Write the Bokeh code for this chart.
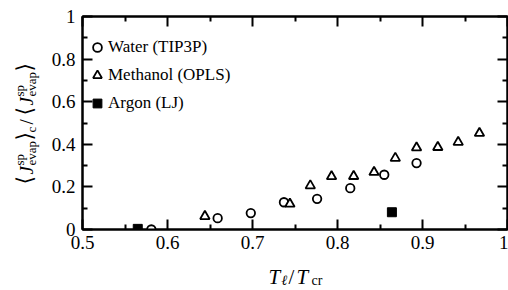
from math import pi
from bokeh.plotting import figure
from bokeh.layouts import row, column
from bokeh.models import (FixedTicker, LinearAxis, Legend, LegendItem, Label,
                          Range1d, CustomJSTickFormatter)
from bokeh.embed import file_html
from bokeh.resources import INLINE

# ---- data ----
water_x = [0.581, 0.659, 0.698, 0.737, 0.776, 0.815, 0.855, 0.893]
water_y = [0.000, 0.053, 0.077, 0.128, 0.144, 0.194, 0.257, 0.312]

methanol_x = [0.644, 0.744, 0.768, 0.793, 0.819, 0.843, 0.868, 0.893, 0.918, 0.942, 0.967]
methanol_y = [0.062, 0.120, 0.206, 0.249, 0.250, 0.269, 0.335, 0.384, 0.386, 0.410, 0.452]

argon_x = [0.565, 0.864]
argon_y = [0.003, 0.081]

series_names = ["Water (TIP3P)", "Methanol (OPLS)", "Argon (LJ)"]

x_ticks = [0.5, 0.6, 0.7, 0.8, 0.9, 1.0]
x_tick_labels = ["0.5", "0.6", "0.7", "0.8", "0.9", "1"]
x_minor = [0.55, 0.65, 0.75, 0.85, 0.95]
y_ticks = [0.0, 0.2, 0.4, 0.6, 0.8, 1.0]
y_tick_labels = ["0", "0.2", "0.4", "0.6", "0.8", "1"]
y_minor = [0.1, 0.3, 0.5, 0.7, 0.9]

SERIF = "Liberation Serif"
YT_W = 40     # width of the strip holding the rotated y title
XT_H = 30     # height of the strip holding the x title
LB = 82 - YT_W

# ---------------- main plot ----------------
p = figure(width=508 - YT_W, height=290 - XT_H, x_range=Range1d(0.5, 1.0), y_range=Range1d(0, 1),
           output_backend="svg", toolbar_location=None,
           x_axis_location=None, y_axis_location=None,
           min_border_left=LB, min_border_right=1, min_border_top=16,
           min_border_bottom=290 - XT_H - 229)
p.xgrid.visible = False
p.ygrid.visible = False
p.outline_line_color = "black"
p.outline_line_width = 2
p.background_fill_color = "white"
p.border_fill_color = "white"

empty = CustomJSTickFormatter(code="return ''")


def style_axis(ax, ticks, minor, labels=None):
    ax.ticker = FixedTicker(ticks=ticks, minor_ticks=minor)
    ax.axis_line_color = "black"
    ax.axis_line_width = 2
    ax.major_tick_in = 10
    ax.major_tick_out = 0
    ax.minor_tick_in = 5
    ax.minor_tick_out = 0
    ax.major_tick_line_width = 2
    ax.minor_tick_line_width = 2
    ax.major_tick_line_color = "black"
    ax.minor_tick_line_color = "black"
    if labels is None:
        ax.formatter = empty
        ax.major_label_text_font_size = "0px"
        ax.major_label_standoff = 0
    else:
        ax.major_label_overrides = dict(zip(ticks, labels))
        ax.major_label_text_font = SERIF
        ax.major_label_text_font_size = "19px"
        ax.major_label_text_color = "black"


xb = LinearAxis()
style_axis(xb, x_ticks, x_minor, x_tick_labels)
xb.major_label_standoff = 6
yl = LinearAxis()
style_axis(yl, y_ticks, y_minor, y_tick_labels)
yl.major_label_standoff = 7
xt = LinearAxis()
style_axis(xt, x_ticks, x_minor)
yr = LinearAxis()
style_axis(yr, y_ticks, y_minor)
p.add_layout(xb, "below")
p.add_layout(yl, "left")
p.add_layout(xt, "above")
p.add_layout(yr, "right")

rw = p.scatter(water_x, water_y, marker="circle", size=8.5, line_color="black",
               line_width=1.8, fill_color="white")
rm = p.scatter(methanol_x, methanol_y, marker="triangle", size=9.5, line_color="black",
               line_width=1.8, fill_color="white")
ra = p.scatter(argon_x, argon_y, marker="square", size=9, line_color="black",
               line_width=1, fill_color="black")

legend = Legend(items=[LegendItem(label=series_names[0], renderers=[rw]),
                       LegendItem(label=series_names[1], renderers=[rm]),
                       LegendItem(label=series_names[2], renderers=[ra])],
                location=(4, 115), padding=0, margin=0, spacing=6,
                glyph_width=22, glyph_height=22, label_standoff=-1,
                label_text_font=SERIF, label_text_font_size="17px",
                label_text_color="black",
                border_line_color=None, background_fill_alpha=0)
p.add_layout(legend)


def strip(w, h, left=0):
    f = figure(width=w, height=h, x_range=Range1d(0, w - left), y_range=Range1d(0, h),
               output_backend="svg", toolbar_location=None,
               x_axis_location=None, y_axis_location=None,
               min_border=0, min_border_left=left, min_border_right=0,
               min_border_top=0, min_border_bottom=0)
    f.xgrid.visible = False
    f.ygrid.visible = False
    f.outline_line_color = None
    f.background_fill_color = "white"
    f.border_fill_color = "white"
    return f


def piece(f, txt, x, y, size, style="normal", angle=0.0, font=SERIF):
    f.add_layout(Label(x=x, y=y, x_units="screen", y_units="screen", text=txt,
                       text_font=font, text_font_size=f"{size}px",
                       text_font_style=style, angle=angle, text_color="black",
                       text_align="left", text_baseline="alphabetic"))


# ---------------- y title strip:  <J^sp_evap>_c / <J^sp_evap> ----------------
ya = strip(YT_W, 290)
A = pi / 2
X = 26
BR = "DejaVu Serif"
piece(ya, "\u27e8", X - 2, 106, 22, angle=A, font=BR)
piece(ya, "J", X, 116, 19, "italic", angle=A)
piece(ya, "sp", X - 7, 125, 13, angle=A)
piece(ya, "evap", X + 5, 125, 13, angle=A)
piece(ya, "\u27e9", X - 2, 150, 22, angle=A, font=BR)
piece(ya, "c", X + 5, 158, 13, angle=A)
piece(ya, "/", X, 166, 19, angle=A)
piece(ya, "\u27e8", X - 2, 175, 22, angle=A, font=BR)
piece(ya, "J", X, 185, 19, "italic", angle=A)
piece(ya, "sp", X - 7, 194, 13, angle=A)
piece(ya, "evap", X + 5, 194, 13, angle=A)
piece(ya, "\u27e9", X - 2, 219, 22, angle=A, font=BR)

# ---------------- x title strip:  T_l / T_cr ----------------
xa = strip(508 - YT_W, XT_H, left=LB)
BL = 14
piece(xa, "T", 186, BL, 21, "italic")
piece(xa, "\u2113", 199, BL - 4, 14, "italic")
piece(xa, "/", 206, BL, 21)
piece(xa, "T", 214, BL, 21, "italic")
piece(xa, "cr", 229, BL - 4, 14)

layout = row(ya, column(p, xa, spacing=0), spacing=0)
open("out.html", "w").write(file_html(layout, INLINE))
